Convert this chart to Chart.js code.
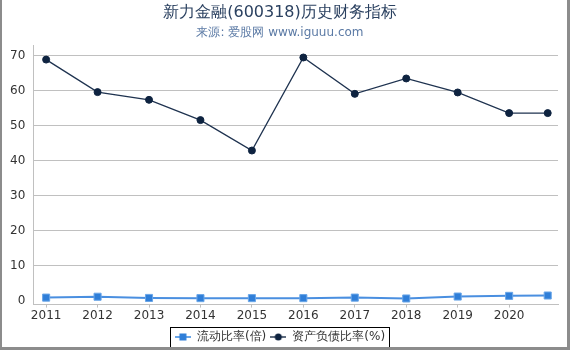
<!DOCTYPE html>
<html>
<head>
<meta charset="utf-8">
<script src="https://cdn.jsdelivr.net/npm/chart.js@4"></script>
<style>
  html, body { margin: 0; padding: 0; background: #fff; }
  #wrap { width: 570px; height: 350px; }
</style>
</head>
<body>
<div id="wrap"><canvas id="chart" width="570" height="350"></canvas></div>
<script>
// periods (the last one is a partial year after 2020)
const periods = [2011, 2012, 2013, 2014, 2015, 2016, 2017, 2018, 2019, 2020, 2020.75]
const tickYears = [2011, 2012, 2013, 2014, 2015, 2016, 2017, 2018, 2019, 2020]
const currentRatio = [0.85, 1.1, 0.75, 0.7, 0.7, 0.7, 0.85, 0.6, 1.15, 1.35, 1.45]
const debtRatio = [68.9, 59.6, 57.4, 51.6, 42.9, 69.5, 59.1, 63.5, 59.5, 53.6, 53.6]
const yTicks = [0, 10, 20, 30, 40, 50, 60, 70]

const BLUE = '#2f7ed8'
const NAVY = '#0e2340'
const FONT = 'DejaVu Sans'

// small line+marker swatches for the legend
function swatch(kind) {
  const c = document.createElement('canvas')
  c.width = 16
  c.height = 12
  const g = c.getContext('2d')
  g.lineWidth = kind === 'rect' ? 2 : 1.5
  g.strokeStyle = kind === 'rect' ? '#6aa6e8' : '#2b3d55'
  g.beginPath()
  g.moveTo(0, 6)
  g.lineTo(16, 6)
  g.stroke()
  if (kind === 'rect') {
    g.fillStyle = BLUE
    g.fillRect(4.5, 2.5, 7, 7)
  } else {
    g.fillStyle = NAVY
    g.beginPath()
    g.arc(8, 6, 3.5, 0, Math.PI * 2)
    g.fill()
  }
  return c
}
const swatches = [swatch('rect'), swatch('circle')]

const toPoints = arr => arr.map((v, i) => ({ x: periods[i], y: v }))

const frameAndLegendBox = {
  id: 'frameAndLegendBox',
  afterLayout(chart) {
    // nudge the legend a little lower, as in the original
    const lg = chart.legend
    lg.top += 3
    lg.bottom += 3
  },
  afterDraw(chart) {
    const ctx = chart.ctx
    const boxes = chart.legend.legendHitBoxes
    if (boxes && boxes.length) {
      const l = Math.min(...boxes.map(b => b.left)) - 5
      const r = Math.max(...boxes.map(b => b.left + b.width)) + 4
      const t = Math.min(...boxes.map(b => b.top)) - 4
      const b = Math.max(...boxes.map(b => b.top + b.height)) + 4
      ctx.save()
      ctx.strokeStyle = '#000'
      ctx.lineWidth = 1
      ctx.strokeRect(Math.round(l) + 0.5, Math.round(t) + 0.5, Math.round(r - l), Math.round(b - t))
      ctx.restore()
    }
    ctx.save()
    ctx.strokeStyle = '#8c8c8c'
    ctx.lineWidth = 3
    ctx.beginPath()
    ctx.moveTo(0.5, 0)
    ctx.lineTo(0.5, 348.5)
    ctx.lineTo(568.5, 348.5)
    ctx.lineTo(568.5, 0)
    ctx.stroke()
    ctx.restore()
  },
}

const ctxChart = document.getElementById('chart').getContext('2d')
const chart = new Chart(ctxChart, {
  type: 'line',
  data: {
    datasets: [
      {
        label: '流动比率(倍)',
        data: toPoints(currentRatio),
        borderColor: '#4a8fe0',
        borderWidth: 2,
        pointStyle: 'rect',
        pointRadius: 5,
        pointBackgroundColor: BLUE,
        pointBorderColor: '#6aa6e8',
        pointBorderWidth: 1,
        tension: 0,
      },
      {
        label: '资产负债比率(%)',
        data: toPoints(debtRatio),
        borderColor: '#1f3350',
        borderWidth: 1.3,
        pointStyle: 'circle',
        pointRadius: 3.5,
        pointBackgroundColor: NAVY,
        pointBorderColor: NAVY,
        pointBorderWidth: 1,
        tension: 0,
      },
    ],
  },
  options: {
    responsive: false,
    animation: false,
    layout: { padding: { left: 2, right: 12, top: 0, bottom: 0 } },
    plugins: {
      title: {
        display: true,
        text: '新力金融(600318)历史财务指标',
        color: '#2b4160',
        font: { family: FONT, size: 16, weight: 'normal', lineHeight: 1.2 },
        padding: { top: 3, bottom: 0 },
      },
      subtitle: {
        display: true,
        text: '来源: 爱股网 www.iguuu.com',
        color: '#5b7aa5',
        font: { family: FONT, size: 12, weight: 'normal', lineHeight: 1.2 },
        padding: { top: 3, bottom: 6 },
      },
      legend: {
        position: 'bottom',
        labels: {
          usePointStyle: true,
          pointStyleWidth: 16,
          boxHeight: 12,
          padding: 4,
          color: '#333',
          font: { family: FONT, size: 12 },
          generateLabels: chart =>
            chart.data.datasets.map((ds, i) => ({
              text: ds.label,
              pointStyle: swatches[i],
              fillStyle: 'transparent',
              strokeStyle: 'transparent',
              lineWidth: 0,
              datasetIndex: i,
              fontColor: '#333',
            })),
        },
      },
      tooltip: { enabled: false },
    },
    scales: {
      x: {
        type: 'linear',
        min: 2010.75,
        max: 2020.95,
        afterBuildTicks: axis => {
          axis.ticks = tickYears.map(v => ({ value: v }))
        },
        grid: {
          drawOnChartArea: false,
          tickLength: 3,
          color: '#c0c0c0',
        },
        border: { color: '#c0c0c0' },
        ticks: {
          padding: 1,
          color: '#333',
          font: { family: FONT, size: 12 },
          callback: v => String(v),
          maxRotation: 0,
        },
      },
      y: {
        min: -1.15,
        max: 72.9,
        afterBuildTicks: axis => {
          axis.ticks = yTicks.map(v => ({ value: v }))
        },
        grid: {
          drawTicks: false,
          color: ctx => (ctx.tick && ctx.tick.value === 0 ? 'rgba(0,0,0,0)' : '#c0c0c0'),
        },
        border: { color: '#c0c0c0' },
        ticks: {
          padding: 8,
          color: '#333',
          font: { family: FONT, size: 12 },
        },
      },
    },
  },
  plugins: [frameAndLegendBox],
})
</script>
</body>
</html>
